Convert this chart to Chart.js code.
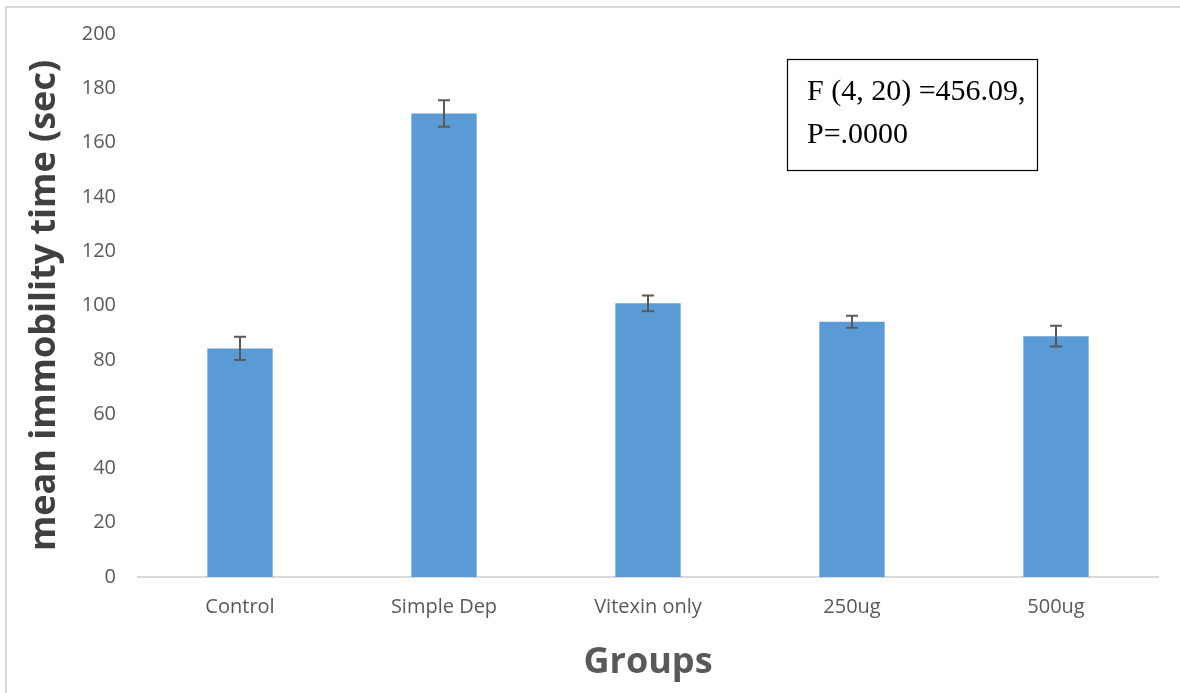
<!DOCTYPE html>
<html>
<head>
<meta charset="utf-8">
<script src="https://cdn.jsdelivr.net/npm/chart.js@4.4.1/dist/chart.umd.min.js"></script>
<style>
    body { margin: 0; background: #fff; }
    #wrap { position: relative; width: 1180px; height: 693px; overflow: hidden; }
    #frame { position: absolute; left: 5px; top: 6px; width: 1300px; height: 800px;
             border-left: 2px solid #d9d9d9; border-top: 2px solid #d9d9d9; pointer-events: none; }
</style>
</head>
<body>
<div id="wrap">
    <canvas id="immobilityChart" width="1180" height="693"></canvas>
    <div id="frame"></div>
</div>
<script>
// Mean immobility time per group
const groups = ['Control', 'Simple Dep', 'Vitexin only', '250ug', '500ug'];
const meanTimes = [84.2, 170.7, 100.8, 94.0, 88.7];
const errTimes = [4.3, 4.9, 2.9, 2.2, 3.8];
const statLines = ['F (4, 20) =456.09,', 'P=.0000'];

const yMin = 0;
const yMax = 200;
const yStep = 20;

// Error bars drawn from the y scale
const errorBarPlugin = {
    id: 'errorBars',
    afterDatasetsDraw(chart) {
        const ctx = chart.ctx;
        const yScale = chart.scales.y;
        const meta = chart.getDatasetMeta(0);
        ctx.save();
        ctx.strokeStyle = '#595959';
        ctx.lineWidth = 2;
        meta.data.forEach((bar, i) => {
            const x = bar.x;
            const yTop = yScale.getPixelForValue(meanTimes[i] + errTimes[i]);
            const yBot = yScale.getPixelForValue(meanTimes[i] - errTimes[i]);
            ctx.beginPath();
            ctx.moveTo(x, yTop);
            ctx.lineTo(x, yBot);
            ctx.moveTo(x - 6, yTop);
            ctx.lineTo(x + 6, yTop);
            ctx.moveTo(x - 6, yBot);
            ctx.lineTo(x + 6, yBot);
            ctx.stroke();
        });
        ctx.restore();
    }
};

// Text box with the ANOVA result
const statBoxPlugin = {
    id: 'statBox',
    afterDraw(chart) {
        const ctx = chart.ctx;
        ctx.save();
        ctx.strokeStyle = '#000';
        ctx.lineWidth = 1.2;
        ctx.strokeRect(787.5, 59.5, 250, 111);
        ctx.fillStyle = '#000';
        ctx.font = '30px "Liberation Serif", "Times New Roman", serif';
        ctx.textBaseline = 'alphabetic';
        ctx.fillText(statLines[0], 807, 100);
        ctx.fillText(statLines[1], 807, 143);
        ctx.restore();
    }
};

document.addEventListener("DOMContentLoaded", function () {
    const ctx = document.getElementById('immobilityChart').getContext('2d');
    new Chart(ctx, {
        type: 'bar',
        data: {
            labels: groups,
            datasets: [{
                label: 'mean immobility time',
                data: meanTimes,
                backgroundColor: '#5b9bd5',
                borderWidth: 0,
                categoryPercentage: 1,
                barPercentage: 0.32
            }]
        },
        options: {
            responsive: false,
            animation: false,
            layout: { padding: { left: 23, right: 22, top: 30, bottom: 9 } },
            scales: {
                x: {
                    grid: { display: false, drawTicks: false },
                    border: { display: true, color: '#d9d9d9', width: 2 },
                    ticks: { color: '#595959', padding: 18, font: { family: '"Open Sans"', size: 20 } },
                    title: {
                        display: true,
                        text: 'Groups',
                        color: '#595959',
                        padding: { top: 0, bottom: 0 },
                        font: { family: '"Open Sans"', size: 36, weight: 'bold' }
                    },
                    afterFit: s => { s.height = 107; }
                },
                y: {
                    min: yMin,
                    max: yMax,
                    grid: { display: false, drawTicks: false },
                    border: { display: false },
                    ticks: { stepSize: yStep, color: '#595959', padding: 22, font: { family: '"Open Sans"', size: 20 } },
                    title: {
                        display: true,
                        text: 'mean immobility time (sec)',
                        color: '#404040',
                        padding: { top: 0, bottom: 0 },
                        font: { family: '"Open Sans"', size: 36, weight: 'bold' }
                    },
                    afterFit: s => { s.width = 115; }
                }
            },
            plugins: {
                legend: { display: false },
                tooltip: { enabled: false }
            }
        },
        plugins: [errorBarPlugin, statBoxPlugin]
    });
});
</script>
</body>
</html>
